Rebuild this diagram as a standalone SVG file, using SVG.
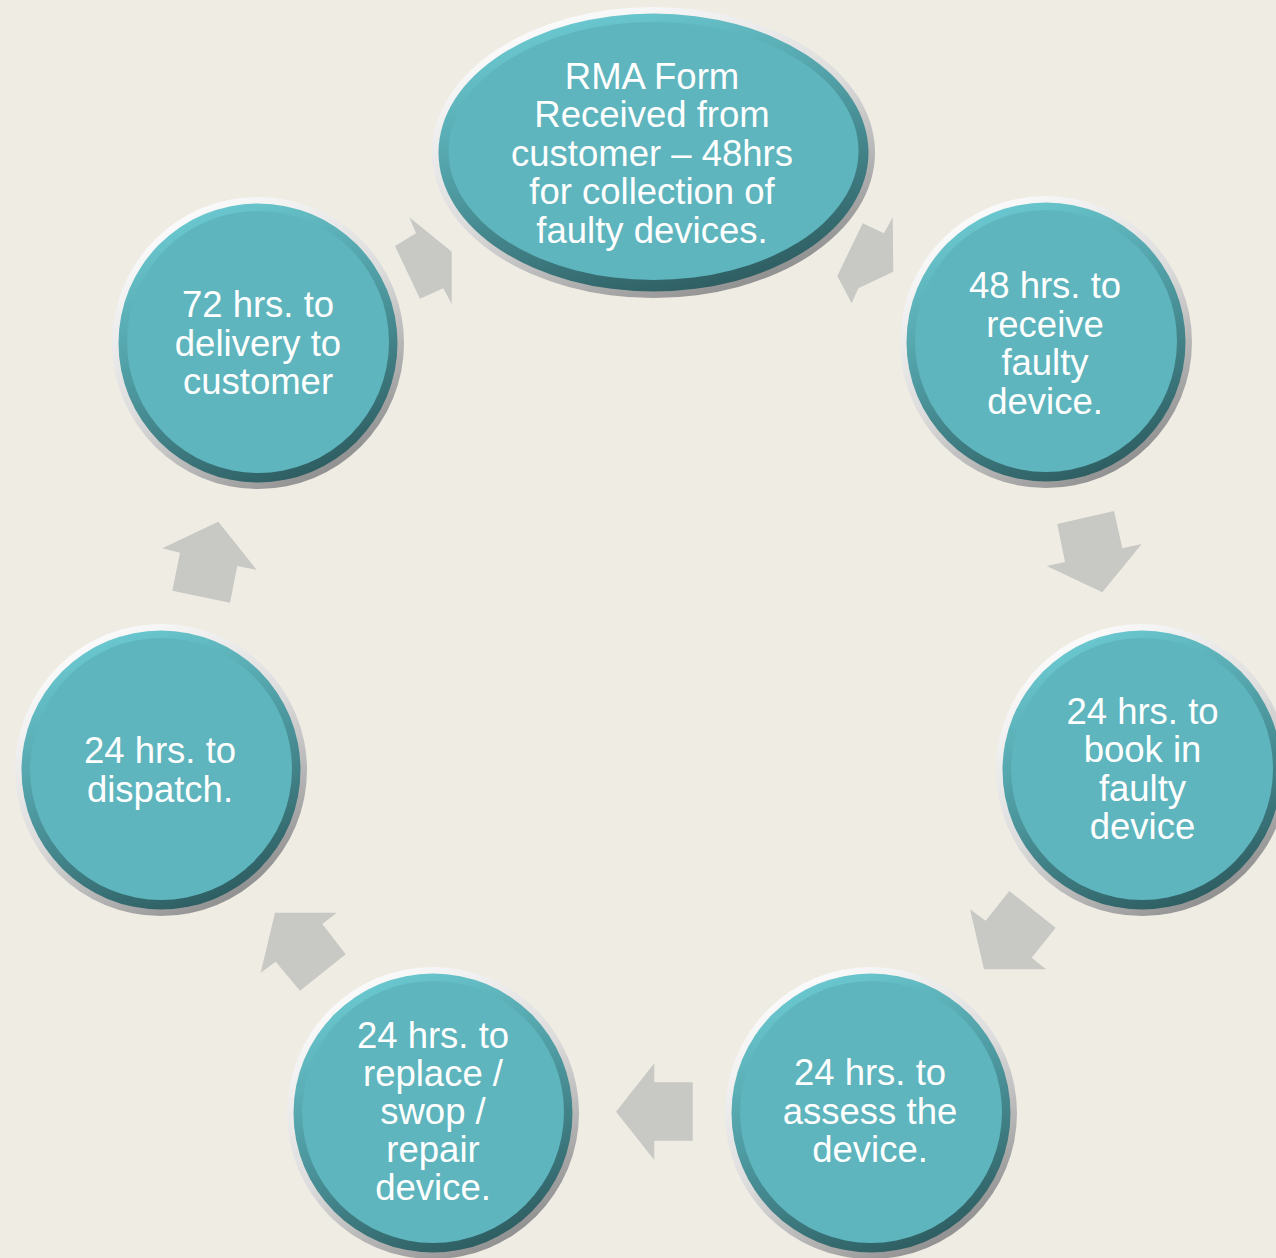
<svg xmlns="http://www.w3.org/2000/svg" width="1276" height="1258" viewBox="0 0 1276 1258">
<defs>
<linearGradient id="bevel" x1="0.2" y1="0" x2="0.8" y2="1">
<stop offset="0" stop-color="#ffffff"/>
<stop offset="0.5" stop-color="#dcdcdc"/>
<stop offset="1" stop-color="#858585"/>
</linearGradient>
<linearGradient id="rim" x1="0.3" y1="0" x2="0.7" y2="1">
<stop offset="0" stop-color="#6ccad2"/>
<stop offset="0.45" stop-color="#4f9ca3"/>
<stop offset="1" stop-color="#2c5a5e"/>
</linearGradient>
<style>
.bevel{fill:url(#bevel)}
.rim{fill:url(#rim)}
.face{fill:#5eb5bd}
.arrow{fill:#c8c8c4}
.lbl{font-family:"Liberation Sans",Arial,sans-serif;font-size:36.5px;fill:#ffffff;text-anchor:middle}
</style>
</defs>
<rect width="1276" height="1258" fill="#efece4"/>

<g id="connectors">
<polygon class="arrow" points="862.7,223.3 884,233.3 892.7,217.3 893.3,271.7 858.3,288.3 851.7,303.3 837.3,276"/>
<polygon class="arrow" points="1057.3,524 1114,511 1122.3,548.3 1141.7,544 1102.3,592.3 1046.7,566 1065,562"/>
<polygon class="arrow" points="1009.3,891 1055.7,927.7 1031.7,957.7 1046,969.3 984,969.3 970,909.3 985.7,920.7"/>
<polygon class="arrow" points="616,1111.7 654.3,1063.3 654.3,1082.3 692.7,1082.3 692.7,1140.7 654.3,1140.7 654.3,1160"/>
<polygon class="arrow" points="275,912.7 336.7,912.7 322.3,924 345.7,954.3 300,990.7 275.7,961.7 260.7,972.7"/>
<polygon class="arrow" points="218.3,521.7 256.7,570 237.3,566 230,602.7 172.3,590.7 180,552.7 162.3,548.3"/>
<polygon class="arrow" points="409.3,217.3 416,233.3 395,246 420,298.7 443.3,288.3 451.7,304 451.7,251.7"/>
</g>

<g id="node1">
<ellipse class="bevel" cx="653.5" cy="152.5" rx="221.5" ry="145.5"/>
<ellipse class="rim" cx="653.5" cy="152.5" rx="215" ry="139"/>
<ellipse class="face" cx="653.5" cy="151" rx="205" ry="129"/>
<text class="lbl" x="652" y="88.5">RMA Form</text>
<text class="lbl" x="652" y="127">Received from</text>
<text class="lbl" x="652" y="165.5">customer – 48hrs</text>
<text class="lbl" x="652" y="204">for collection of</text>
<text class="lbl" x="652" y="242.5">faulty devices.</text>
</g>

<g id="node2">
<circle class="bevel" cx="1046" cy="342" r="146"/>
<circle class="rim" cx="1046" cy="342" r="139.5"/>
<circle class="face" cx="1046" cy="341" r="131"/>
<text class="lbl" x="1045" y="298">48 hrs. to</text>
<text class="lbl" x="1045" y="336.5">receive</text>
<text class="lbl" x="1045" y="375">faulty</text>
<text class="lbl" x="1045" y="413.5">device.</text>
</g>

<g id="node3">
<circle class="bevel" cx="1142" cy="770" r="146"/>
<circle class="rim" cx="1142" cy="770" r="139.5"/>
<circle class="face" cx="1142" cy="769" r="131"/>
<text class="lbl" x="1142.5" y="723.5">24 hrs. to</text>
<text class="lbl" x="1142.5" y="762">book in</text>
<text class="lbl" x="1142.5" y="800.5">faulty</text>
<text class="lbl" x="1142.5" y="839">device</text>
</g>

<g id="node4">
<circle class="bevel" cx="871" cy="1113" r="146"/>
<circle class="rim" cx="871" cy="1113" r="139.5"/>
<circle class="face" cx="871" cy="1112" r="131"/>
<text class="lbl" x="870" y="1085">24 hrs. to</text>
<text class="lbl" x="870" y="1123.5">assess the</text>
<text class="lbl" x="870" y="1162">device.</text>
</g>

<g id="node5">
<circle class="bevel" cx="433" cy="1113" r="146"/>
<circle class="rim" cx="433" cy="1113" r="139.5"/>
<circle class="face" cx="433" cy="1112" r="131"/>
<text class="lbl" x="433" y="1048">24 hrs. to</text>
<text class="lbl" x="433" y="1086">replace /</text>
<text class="lbl" x="433" y="1124">swop /</text>
<text class="lbl" x="433" y="1162">repair</text>
<text class="lbl" x="433" y="1200">device.</text>
</g>

<g id="node6">
<circle class="bevel" cx="161" cy="770" r="146"/>
<circle class="rim" cx="161" cy="770" r="139.5"/>
<circle class="face" cx="161" cy="769" r="131"/>
<text class="lbl" x="160" y="763">24 hrs. to</text>
<text class="lbl" x="160" y="802">dispatch.</text>
</g>

<g id="node7">
<circle class="bevel" cx="258" cy="343" r="146"/>
<circle class="rim" cx="258" cy="343" r="139.5"/>
<circle class="face" cx="258" cy="342" r="131"/>
<text class="lbl" x="258" y="317">72 hrs. to</text>
<text class="lbl" x="258" y="355.5">delivery to</text>
<text class="lbl" x="258" y="394">customer</text>
</g>
</svg>
